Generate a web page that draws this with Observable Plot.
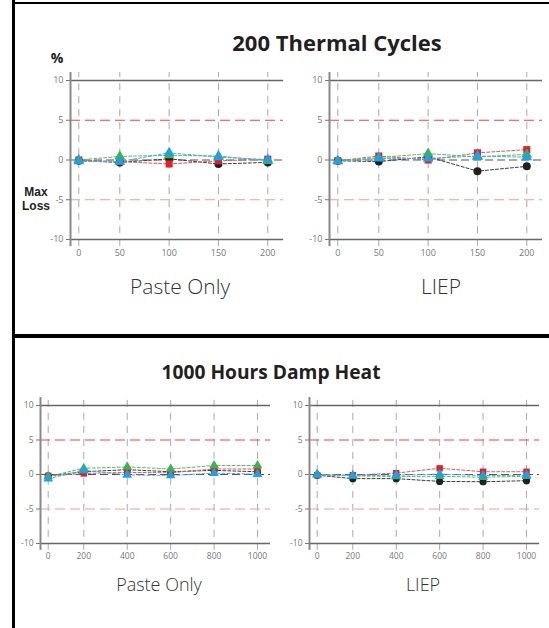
<!DOCTYPE html>
<html><head><meta charset="utf-8">
<script src="https://cdn.jsdelivr.net/npm/d3@7"></script>
<script src="https://cdn.jsdelivr.net/npm/@observablehq/plot@0.6"></script>
<style>
html,body{margin:0;padding:0;background:#fff;}
#wrap{position:relative;width:549px;height:628px;overflow:hidden;font-family:"Open Sans",sans-serif;}
.t{position:absolute;white-space:nowrap;line-height:1;transform:translateX(-50%);color:#231f20;text-align:center;}
.b{position:absolute;background:#000;}
.p{position:absolute;}
</style></head><body>
<div id="wrap"></div>
<script>
// ---- data ----
const xCycles = [0, 50, 100, 150, 200];
const xHours = [0, 200, 400, 600, 800, 1000];
const yTicks = [-10, -5, 0, 5, 10];
const limits = [5, -5];

// 200 Thermal Cycles, Paste Only
const tcPasteBlack = [-0.1, -0.3, 0.15, -0.5, -0.3];
const tcPasteRed   = [0.0, -0.2, -0.5, -0.1, 0.1];
const tcPasteGreen = [0.0, 0.45, 0.6, 0.5, -0.1];
const tcPasteBlue  = [-0.15, -0.2, 0.9, 0.35, 0.05];
// 200 Thermal Cycles, LIEP
const tcLiepBlack = [-0.1, -0.2, 0.4, -1.4, -0.8];
const tcLiepRed   = [-0.1, 0.5, 0.0, 0.9, 1.3];
const tcLiepGreen = [-0.1, 0.3, 0.8, 0.4, 0.7];
const tcLiepBlue  = [-0.15, 0.2, 0.2, 0.5, 0.35];
// 1000 Hours Damp Heat, Paste Only
const dhPasteBlack = [-0.2, 0.4, 0.7, 0.4, 0.6, 0.4];
const dhPasteRed   = [-0.2, 0.15, 0.3, 0.25, 0.8, 0.8];
const dhPasteGreen = [-0.3, 0.9, 1.1, 0.8, 1.3, 1.3];
const dhPasteBlue  = [-0.6, 0.6, -0.05, -0.15, 0.2, 0.05];
// 1000 Hours Damp Heat, LIEP
const dhLiepBlack = [-0.1, -0.6, -0.6, -1.0, -1.05, -0.9];
const dhLiepRed   = [-0.1, -0.1, 0.2, 0.9, 0.4, 0.4];
const dhLiepGreen = [0.05, -0.2, -0.3, -0.25, -0.4, -0.25];
const dhLiepBlue  = [-0.05, -0.15, -0.1, 0.05, -0.15, -0.1];

const seriesNames = ["black", "red", "green", "blue"];
const dotColors = {black: "#231f20", red: "#ed1c24", green: "#39b54a", blue: "#1aa3e8"};
const lineColors = {black: "#3a3a3a", red: "#f05050", green: "#55c055", blue: "#35b5ea"};
const symbols = {black: "circle", red: "square", green: "triangle", blue: "triangle"};

function rows(xs, lists) {
  const out = [];
  seriesNames.forEach((s, i) => xs.forEach((x, j) => out.push({x, y: lists[i][j], s})));
  return out;
}

const wrap = document.getElementById("wrap");

function panel(cfg) {
  const data = rows(cfg.xs, cfg.lists);
  const marks = [
    Plot.ruleX(cfg.xs, {y1: cfg.gridY[0], y2: cfg.gridY[1], stroke: "#aaa", strokeWidth: 1, strokeDasharray: "7,6"}),
    Plot.ruleY([limits[0]], {stroke: "#ff3c3c", strokeWidth: 1, strokeDasharray: "10,5"}),
    Plot.ruleY([limits[1]], {stroke: "#f59a9a", strokeWidth: 1, strokeDasharray: "10,5"}),
    Plot.ruleY([0], {stroke: "#555", strokeWidth: 1.1, strokeDasharray: "8,4"}),
    Plot.ruleY([10, -10], {stroke: "#666", strokeWidth: 1.3}),
    Plot.ruleX([cfg.xDomain[0]], {y1: cfg.gridY[0], y2: cfg.gridY[1], stroke: "#888", strokeWidth: 2}),
    Plot.axisY({ticks: yTicks, tickSize: 4, tickPadding: 3, fontSize: cfg.fs, color: "#777", label: null, tickFormat: d => String(d)}),
    Plot.axisX({ticks: cfg.xs, tickSize: 0, tickPadding: cfg.tp, fontSize: cfg.fs, color: "#777", label: null, tickFormat: d => String(d)})
  ];
  seriesNames.forEach(s => {
    const d = data.filter(r => r.s === s);
    marks.push(Plot.line(d, {x: "x", y: "y", stroke: lineColors[s], strokeWidth: 1, strokeDasharray: "3,2"}));
  });
  seriesNames.forEach(s => {
    const d = data.filter(r => r.s === s);
    marks.push(Plot.dot(d, {x: "x", y: "y", fill: dotColors[s], symbol: symbols[s], r: cfg.r}));
  });
  const svg = Plot.plot({
    width: cfg.w, height: cfg.h,
    marginLeft: cfg.ml, marginRight: cfg.mr, marginTop: cfg.mt, marginBottom: cfg.mb,
    x: {type: "linear", domain: cfg.xDomain, range: cfg.xRange},
    y: {type: "linear", domain: [-10, 10], range: [cfg.h - cfg.mb, cfg.mt]},
    style: {background: "transparent", overflow: "visible", fontFamily: "Open Sans, sans-serif"},
    marks
  });
  svg.classList.add("p");
  svg.style.left = cfg.left + "px";
  svg.style.top = cfg.top + "px";
  wrap.appendChild(svg);
}

const topLayout = {w: 270, h: 200, ml: 50, mr: 7, mt: 18, mb: 23, fs: 9, tp: 10, r: 4,
  xDomain: [-10, 0, 50, 200, 216], xRange: [50, 58.3, 99.3, 247.3, 263], gridY: [-10.9, 11]};
const botLayout = {w: 275, h: 175, ml: 40, mr: 5, mt: 15, mb: 22, fs: 8.5, tp: 9, r: 3.6,
  xDomain: [-43, 0, 200, 1000, 1060], xRange: [40, 47.7, 83.3, 257, 270], gridY: [-11, 11.15]};

panel({...topLayout, left: 20, top: 62, xs: xCycles, lists: [tcPasteBlack, tcPasteRed, tcPasteGreen, tcPasteBlue]});
panel({...topLayout, left: 279, top: 62, xs: xCycles, lists: [tcLiepBlack, tcLiepRed, tcLiepGreen, tcLiepBlue]});
panel({...botLayout, left: 0, top: 390, xs: xHours, lists: [dhPasteBlack, dhPasteRed, dhPasteGreen, dhPasteBlue]});
panel({...botLayout, left: 269, top: 390, xs: xHours, lists: [dhLiepBlack, dhLiepRed, dhLiepGreen, dhLiepBlue]});

// frame lines
function bar(l, t, w, h) { const d = document.createElement("div"); d.className = "b"; Object.assign(d.style, {left: l + "px", top: t + "px", width: w + "px", height: h + "px"}); wrap.appendChild(d); }
bar(12, 0, 3, 628);
bar(12, 2, 537, 1.5);
bar(12, 334, 537, 3.5);

// texts (baseline positioned)
function txt(s, cx, baseline, fs, weight, color) {
  const d = document.createElement("div");
  d.className = "t";
  d.textContent = s;
  Object.assign(d.style, {left: cx + "px", top: (baseline - 0.888 * fs) + "px", fontSize: fs + "px", fontWeight: weight});
  if (color) d.style.color = color;
  wrap.appendChild(d);
  return d;
}
txt("200 Thermal Cycles", 337, 51, 22, 700);
txt("%", 57, 63, 14, 700);
// "Max Loss" stacked, compact font so the two lines do not collide
const ml = document.createElement("div");
ml.className = "t";
ml.innerHTML = "Max<br>Loss";
Object.assign(ml.style, {left: "36px", top: "186px", fontSize: "12px", lineHeight: "13.6px", fontWeight: 700, fontFamily: "'Liberation Sans', Arial, sans-serif"});
wrap.appendChild(ml);
txt("Paste Only", 180, 295, 21, 300, "#333");
txt("LIEP", 441, 295, 21, 300, "#333");
txt("1000 Hours Damp Heat", 271, 379, 19.2, 700);
txt("Paste Only", 159, 591, 18, 300, "#333");
txt("LIEP", 423, 591, 18, 300, "#333");
</script>
</body></html>
